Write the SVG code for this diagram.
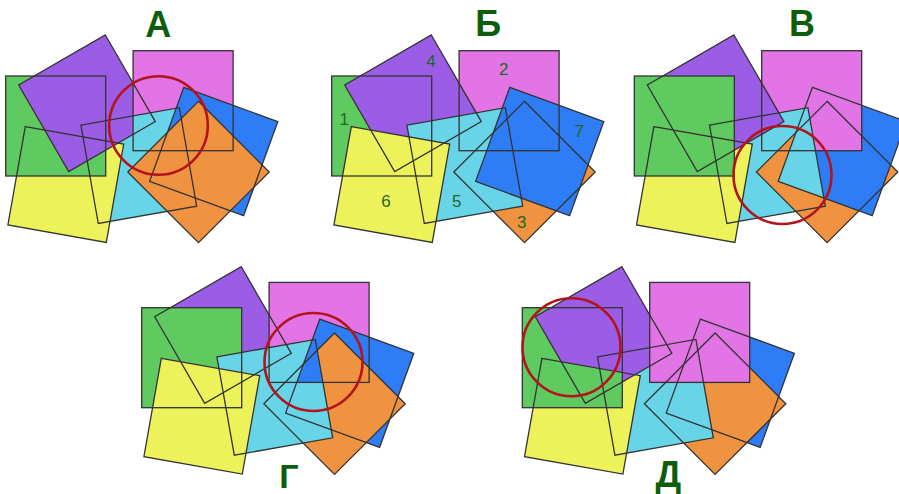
<svg xmlns="http://www.w3.org/2000/svg" xmlns:xlink="http://www.w3.org/1999/xlink" width="899" height="494" viewBox="0 0 899 494">
<style>
.g{fill:#5fca5f}.m{fill:#e274e6}.p{fill:#9b5de5}.y{fill:#eef25a}.c{fill:#67d4e8}.o{fill:#ef9341}.b{fill:#2e7cf6}
.ol{fill:none;stroke:#333;stroke-width:1.3;stroke-linejoin:miter}
.ring{fill:none;stroke:#b3141c;stroke-width:2.6}
.lbl{font-family:"Liberation Sans",Arial,sans-serif;font-weight:bold;font-size:36px;fill:#0c5e0c;text-anchor:middle}
.num{font-family:"Liberation Sans",Arial,sans-serif;font-size:17px;fill:#1d6a1d;text-anchor:middle}
</style>
<defs>
<rect id="sqG" x="0" y="0" width="100" height="100"/>
<rect id="sqM" x="127.4" y="-25.3" width="100" height="100"/>
<polygon id="sqP" points="99.6,-41 149.6,45.6 63,95.6 13,9"/>
<polygon id="sqY" points="19.6,50.6 118,68 100.6,166.4 2.2,149"/>
<polygon id="sqC" points="75.2,49.1 173.6,31.7 191,130.1 92.6,147.5"/>
<polygon id="sqO" points="192.8,25.3 263.5,96 192.8,166.7 122.1,96"/>
<polygon id="sqB" points="178.1,11.4 272.1,45.6 237.9,139.6 143.9,105.4"/>
<clipPath id="clipG"><use href="#sqG"/></clipPath>
<clipPath id="clipM"><use href="#sqM"/></clipPath>
<clipPath id="clipP"><use href="#sqP"/></clipPath>
<clipPath id="clipY"><use href="#sqY"/></clipPath>
<clipPath id="clipC"><use href="#sqC"/></clipPath>
<clipPath id="clipO"><use href="#sqO"/></clipPath>
<g id="outlines">
<use href="#sqG" class="ol"/><use href="#sqM" class="ol"/><use href="#sqP" class="ol"/><use href="#sqY" class="ol"/><use href="#sqC" class="ol"/><use href="#sqO" class="ol"/><use href="#sqB" class="ol"/>
</g>
</defs>

<g id="panel-A" transform="translate(5.7,76)">
<use href="#sqM" class="m"/><use href="#sqC" class="c"/><use href="#sqY" class="y"/><use href="#sqG" class="g"/><use href="#sqP" class="p"/><use href="#sqB" class="b"/><use href="#sqO" class="o"/>
<g clip-path="url(#clipM)"><g clip-path="url(#clipP)"><use href="#sqM" class="m"/><use href="#sqC" class="c"/></g></g>
<use href="#outlines"/>
<circle class="ring" cx="152.8" cy="49.5" r="49.3"/>
</g>

<g id="panel-B" transform="translate(331.7,76)">
<use href="#sqG" class="g"/><use href="#sqM" class="m"/><use href="#sqO" class="o"/><use href="#sqP" class="p"/><use href="#sqC" class="c"/><use href="#sqY" class="y"/><use href="#sqB" class="b"/>
<use href="#outlines"/>
<text class="num" x="12.5" y="49">1</text>
<text class="num" x="172" y="-1">2</text>
<text class="num" x="190" y="152.3">3</text>
<text class="num" x="99.3" y="-9.3">4</text>
<text class="num" x="125" y="131.3">5</text>
<text class="num" x="54.3" y="131.3">6</text>
<text class="num" x="247.6" y="61.3">7</text>
</g>

<g id="panel-V" transform="translate(634.3,76)">
<use href="#sqO" class="o"/><use href="#sqB" class="b"/><use href="#sqM" class="m"/><use href="#sqC" class="c"/><use href="#sqY" class="y"/><use href="#sqP" class="p"/><use href="#sqG" class="g"/>
<g clip-path="url(#clipC)"><g clip-path="url(#clipO)"><use href="#sqO" class="o"/><use href="#sqB" class="c"/></g></g>
<use href="#outlines"/>
<circle class="ring" cx="148.2" cy="99" r="49"/>
</g>

<g id="panel-G" transform="translate(141.7,307.7)">
<use href="#sqP" class="p"/><use href="#sqG" class="g"/><use href="#sqM" class="m"/><use href="#sqB" class="b"/><use href="#sqO" class="o"/><use href="#sqC" class="c"/><use href="#sqY" class="y"/>
<g clip-path="url(#clipC)"><g clip-path="url(#clipM)"><use href="#sqB" class="b"/></g></g>
<use href="#outlines"/>
<circle class="ring" cx="171.8" cy="54.3" r="49"/>
</g>

<g id="panel-D" transform="translate(522.3,307.7)">
<use href="#sqB" class="b"/><use href="#sqO" class="o"/><use href="#sqC" class="c"/><use href="#sqY" class="y"/><use href="#sqG" class="g"/><use href="#sqP" class="p"/><use href="#sqM" class="m"/>
<g clip-path="url(#clipG)"><g clip-path="url(#clipP)"><g clip-path="url(#clipY)"><use href="#sqG" class="g"/></g></g></g>
<use href="#outlines"/>
<circle class="ring" cx="49.2" cy="39.5" r="49"/>
</g>

<g id="labels">
<text class="lbl" x="158.3" y="36.5">А</text>
<text class="lbl" x="488.3" y="36">Б</text>
<text class="lbl" x="802" y="36">В</text>
<text class="lbl" x="289" y="487.5" style="font-size:34px">Г</text>
<text class="lbl" x="668.3" y="486.5">Д</text>
</g>
</svg>
